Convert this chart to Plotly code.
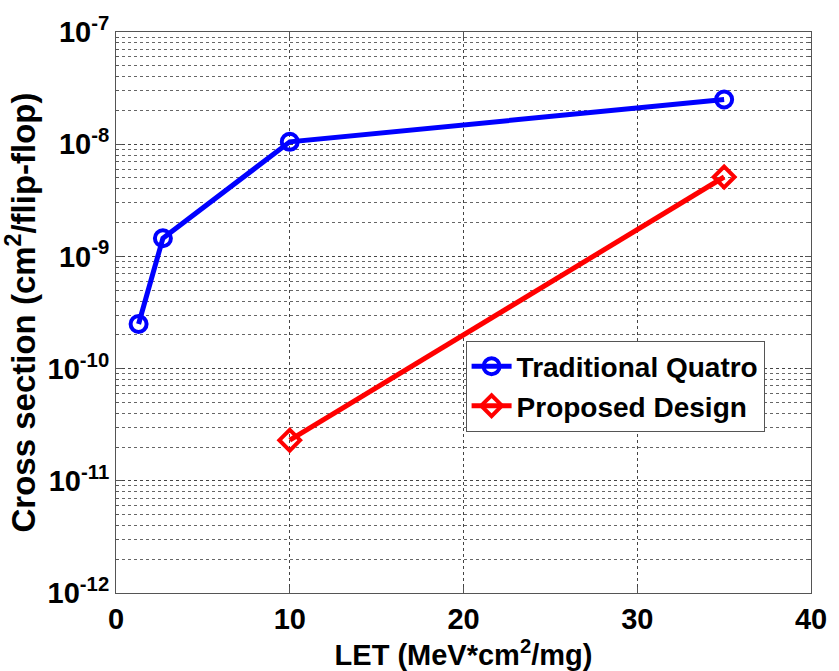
import plotly.graph_objects as go

# LET values (MeV*cm^2/mg) and measured cross sections (cm^2/flip-flop)
let_quatro = [1.3, 2.7, 10, 35]
xs_quatro = [2.5e-10, 1.45e-9, 1.05e-8, 2.5e-8]
let_proposed = [10, 35]
xs_proposed = [2.3e-11, 5.1e-9]

y_tickvals = [1e-12, 1e-11, 1e-10, 1e-9, 1e-8, 1e-7]
y_ticktext = ["10<sup>-12</sup>", "10<sup>-11</sup>", "10<sup>-10</sup>",
              "10<sup>-9</sup>", "10<sup>-8</sup>", "10<sup>-7</sup>"]
x_tickvals = [0, 10, 20, 30, 40]

# minor log ticks 2..9 within every decade
y_minor_vals = [m * d for d in y_tickvals[:-1] for m in range(2, 10)]

FONT = "Liberation Sans, Arial, sans-serif"

fig = go.Figure()
fig.add_trace(go.Scatter(
    x=let_quatro, y=xs_quatro, name="Traditional Quatro",
    mode="lines+markers",
    line=dict(color="#0000ff", width=5),
    marker=dict(symbol="circle-open", size=16, color="#0000ff", line=dict(width=4)),
))
fig.add_trace(go.Scatter(
    x=let_proposed, y=xs_proposed, name="Proposed Design",
    mode="lines+markers",
    line=dict(color="#ff0000", width=5),
    marker=dict(symbol="diamond-open", size=16, color="#ff0000", line=dict(width=4)),
))

axis_common = dict(
    showline=True, linecolor="#555555", linewidth=1, mirror="ticks",
    ticks="inside", ticklen=6, tickcolor="#555555",
    tickfont=dict(family=FONT, size=29, color="black", weight="bold"),
    zeroline=False,
)

fig.update_xaxes(
    range=[0, 40], tickvals=x_tickvals,
    showgrid=True, gridcolor="#444444", gridwidth=1, griddash="dot",
    title=dict(text="LET (MeV*cm<sup>2</sup>/mg)", standoff=4,
               font=dict(family=FONT, size=29, color="black", weight="bold")),
    **axis_common,
)
fig.update_yaxes(
    type="log", range=[-12, -7],
    tickvals=y_tickvals, ticktext=y_ticktext,
    showgrid=True, gridcolor="#444444", gridwidth=1, griddash="dot",
    minor=dict(tickvals=y_minor_vals, showgrid=True, gridcolor="#666666",
               gridwidth=1, griddash="dot",
               ticks="inside", ticklen=3, tickcolor="#555555"),
    title=dict(text="Cross section (cm<sup>2</sup>/flip-flop)", standoff=4,
               font=dict(family=FONT, size=33, color="black", weight="bold")),
    **axis_common,
)

fig.update_layout(
    width=839, height=671,
    margin=dict(l=116, r=17, t=29, b=76),
    paper_bgcolor="white", plot_bgcolor="white",
    showlegend=True,
    legend=dict(
        x=0.503, y=0.45, xanchor="left", yanchor="top",
        bgcolor="white", bordercolor="#555555", borderwidth=1,
        font=dict(family=FONT, size=28, color="black", weight="bold"),
        itemwidth=40, tracegroupgap=0,
    ),
)

fig.write_html("out.html")
